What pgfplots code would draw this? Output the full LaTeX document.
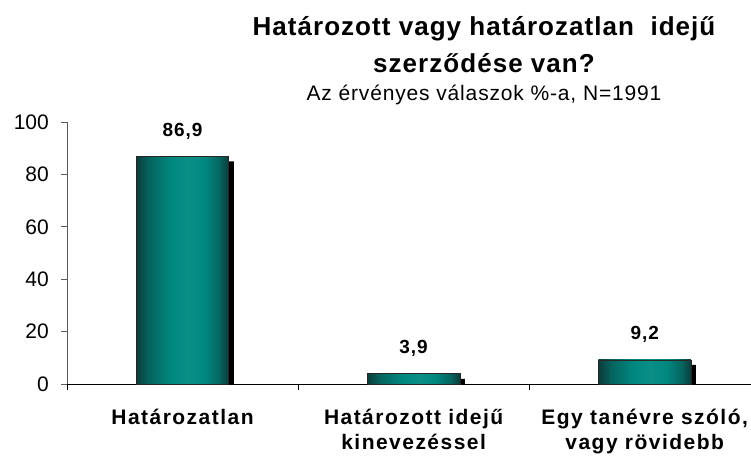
\documentclass[border=0pt]{standalone}
\usepackage{pgfplots}
\pgfplotsset{compat=1.18}
\usepackage{fontspec}
\setmainfont{Liberation Sans}
\definecolor{tdark}{RGB}{12,60,58}
\definecolor{tmd}{RGB}{6,100,95}
\definecolor{tmid}{RGB}{0,136,127}
\definecolor{tbr}{RGB}{10,142,134}
\pgfdeclarehorizontalshading{barshade}{100bp}{color(0bp)=(tdark); color(25bp)=(tdark); color(32bp)=(tmd); color(44bp)=(tmid); color(53bp)=(tbr); color(62bp)=(tmid); color(70bp)=(tmd); color(75bp)=(tdark); color(100bp)=(tdark)}
\pgfkeys{/pgf/number format/assume math mode=true}
\begin{document}
\begin{tikzpicture}
\useasboundingbox (-67bp,-75bp) rectangle (684bp,384bp);
\begin{axis}[
  at={(0,0)}, anchor=south west,
  scale only axis, width=684bp, height=262bp,
  xmin=-0.5, xmax=2.46, ymin=0, ymax=100,
  axis x line=bottom, axis y line=left,
  axis line style={-, line width=0.8bp},
  x axis line style={black}, y axis line style={black!65},
  tick align=outside,
  major tick length=6bp, minor tick length=6bp,
  ytick={0,20,40,60,80,100},
  y tick style={black!65, line width=0.8bp},
  yticklabel style={font=\fontsize{21bp}{25bp}\selectfont, inner sep=0pt, anchor=east, xshift=-12bp},
  xtick={0,1,2},
  xticklabels={Határozatlan, {Határozott idejű\\kinevezéssel}, {Egy tanévre szóló,\\vagy rövidebb}},
  major x tick style={draw=none},
  minor xtick={-0.5,0.5,1.5},
  minor x tick style={black, line width=0.8bp},
  xticklabel style={align=center, font=\fontsize{21bp}{25bp}\selectfont\bfseries\addfontfeatures{LetterSpace=7}, anchor=north, inner sep=0pt, yshift=-19bp},
  clip=false,
  mainbar/.style={ybar, bar width=0.4, bar shift=0pt, shade, shading=barshade, shading angle=0,
    draw=black!85, line width=0.6bp,
    nodes near coords={\pgfmathprintnumber[fixed, fixed zerofill, precision=1, use comma]{\pgfplotspointmeta}},
    nodes near coords style={font=\fontsize{19bp}{22bp}\selectfont\bfseries\addfontfeatures{LetterSpace=5}, anchor=base, inner sep=0pt, yshift=20bp}},
]
\addplot[ybar, bar width=0.4, bar shift=5bp, fill=black, draw=none]
  coordinates {(0,85.0) (1,2.0) (2,7.3)};
\addplot[mainbar] coordinates {(0,86.9)};
\addplot[mainbar] coordinates {(1,3.9)};
\addplot[mainbar] coordinates {(2,9.2)};
\end{axis}
\node[anchor=base, font=\fontsize{26bp}{30bp}\selectfont\bfseries\addfontfeatures{LetterSpace=4}] at (417bp,348bp) {Határozott vagy határozatlan\ \ idejű};
\node[anchor=base, font=\fontsize{26bp}{30bp}\selectfont\bfseries\addfontfeatures{LetterSpace=4}] at (417bp,311bp) {szerződése van?};
\node[anchor=base, font=\fontsize{21bp}{24bp}\selectfont\addfontfeatures{LetterSpace=4}] at (417bp,283bp) {Az érvényes válaszok \%-a, N=1991};
\end{tikzpicture}
\end{document}
